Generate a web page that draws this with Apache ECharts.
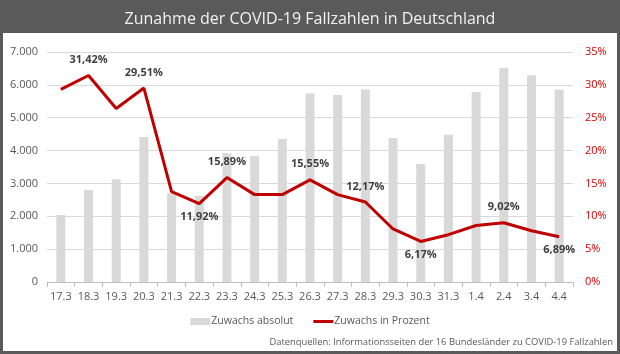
<!DOCTYPE html>
<html>
<head>
<meta charset="utf-8">
<script src="https://cdn.jsdelivr.net/npm/echarts@6/dist/echarts.min.js"></script>
<style>
  html, body { margin: 0; padding: 0; }
  #chart { width: 620px; height: 354px; }
</style>
</head>
<body>
<div id="chart"></div>
<script>
const days = ['17.3', '18.3', '19.3', '20.3', '21.3', '22.3', '23.3', '24.3', '25.3', '26.3',
    '27.3', '28.3', '29.3', '30.3', '31.3', '1.4', '2.4', '3.4', '4.4'];
// Zuwachs absolut
const absolut = [2040, 2800, 3130, 4410, 2700, 2620, 3920, 3830, 4350, 5740,
    5690, 5860, 4380, 3590, 4480, 5780, 6520, 6290, 5860];
// Zuwachs in Prozent
const prozent = [29.3, 31.42, 26.4, 29.51, 13.75, 11.92, 15.89, 13.3, 13.3, 15.55,
    13.3, 12.17, 8.07, 6.17, 7.2, 8.6, 9.02, 7.8, 6.89];
// which points carry a label and where
const labelPos = [null, 'top', null, 'top', null, 'bottom', 'top', null, null, 'top',
    null, 'top', null, 'bottom', null, null, 'top', null, 'bottom'];

const grey = '#595959';
const font = 'Open Sans';

const deNum = v => String(v).replace(/\B(?=(\d{3})+(?!\d))/g, '.');
const dePct = v => v.toFixed(2).replace('.', ',') + '%';

const chart = echarts.init(document.getElementById('chart'));

const lineData = prozent.map((v, i) => {
    if (!labelPos[i]) return v;
    return {
        value: v,
        label: { show: true, position: labelPos[i], distance: labelPos[i] === 'top' ? 10 : 8 }
    };
});

chart.setOption({
    backgroundColor: '#5a5a5a',
    animation: false,
    textStyle: { fontFamily: font },
    graphic: [{
        type: 'rect',
        z: -10,
        shape: { x: 3, y: 33, width: 614, height: 318 },
        style: { fill: '#ffffff' }
    }, {
        type: 'text',
        right: 7,
        bottom: 7,
        style: {
            text: 'Datenquellen: Informationsseiten der 16 Bundesländer zu COVID-19 Fallzahlen',
            fill: grey,
            font: '9.4px "Open Sans"'
        }
    }],
    title: {
        text: 'Zunahme der COVID-19 Fallzahlen in Deutschland',
        left: 'center',
        top: 6,
        textStyle: { color: '#f2f2f2', fontSize: 16, fontWeight: 'normal', fontFamily: font }
    },
    legend: {
        bottom: 22,
        left: 'center',
        itemGap: 20,
        itemWidth: 20,
        itemHeight: 7,
        textStyle: { color: grey, fontSize: 10.5, fontFamily: font, padding: [0, 0, 0, -4] },
        data: [
            { name: 'Zuwachs absolut', icon: 'rect' },
            { name: 'Zuwachs in Prozent', icon: 'path://M0,0 L20,0 L20,3 L0,3 Z' }
        ]
    },
    grid: { left: 47, right: 47, top: 52, bottom: 72 },
    xAxis: {
        type: 'category',
        data: days,
        axisLine: { lineStyle: { color: '#bfbfbf' } },
        axisTick: { show: true, length: 5, lineStyle: { color: '#bfbfbf' } },
        axisLabel: { color: grey, fontSize: 11, margin: 9, interval: 0 }
    },
    yAxis: [{
        type: 'value',
        min: 0,
        max: 7000,
        interval: 1000,
        axisLine: { show: false },
        axisTick: { show: false },
        axisLabel: { color: grey, fontSize: 11, margin: 9, formatter: deNum },
        splitLine: { lineStyle: { color: '#d9d9d9' } }
    }, {
        type: 'value',
        min: 0,
        max: 35,
        interval: 5,
        axisLine: { show: false },
        axisTick: { show: false },
        axisLabel: { color: '#e00000', fontSize: 11, margin: 12, formatter: v => v + '%' },
        splitLine: { show: false }
    }],
    series: [{
        name: 'Zuwachs absolut',
        type: 'bar',
        data: absolut,
        barWidth: 9,
        itemStyle: { color: '#d9d9d9' }
    }, {
        name: 'Zuwachs in Prozent',
        type: 'line',
        yAxisIndex: 1,
        data: lineData,
        symbol: 'circle',
        symbolSize: 0,
        showSymbol: true,
        lineStyle: { color: '#c00000', width: 3 },
        itemStyle: { color: '#c00000' },
        label: {
            show: false,
            color: '#404040',
            fontSize: 11,
            fontWeight: 'bold',
            fontFamily: font,
            formatter: p => dePct(p.value)
        }
    }]
});
</script>
</body>
</html>
